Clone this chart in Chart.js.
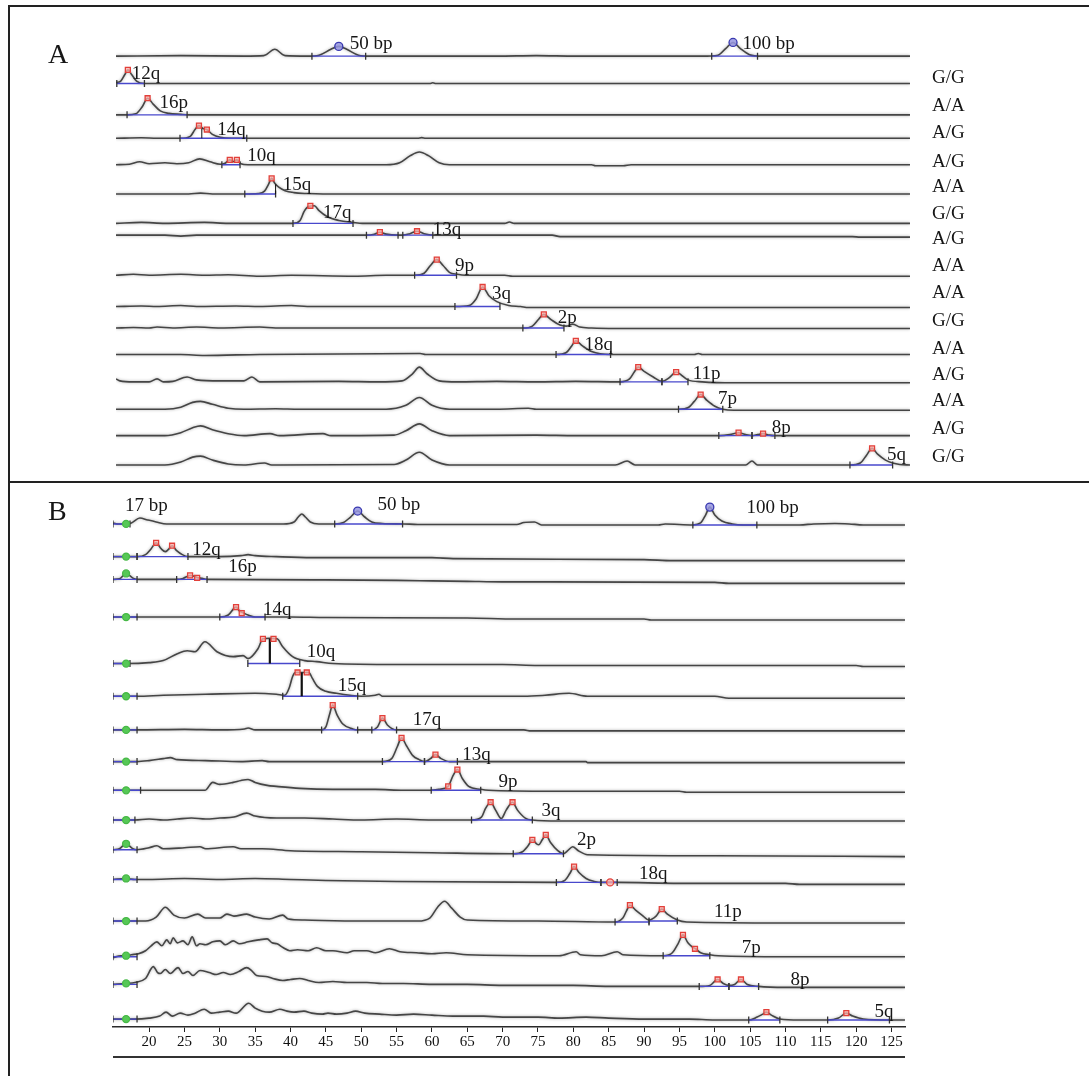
<!DOCTYPE html>
<html lang="en">
<head>
<meta charset="UTF-8">
<title>Electropherogram lanes A / B</title>
<script src="https://cdn.jsdelivr.net/npm/chart.js"></script>
<style>
  body { margin: 0; background: #fff; }
  #wrap { position: relative; width: 1089px; height: 1076px; overflow: hidden; }
  .panel { position: absolute; left: 0; }
  .frame { position: absolute; left: 8px; top: 5px; width: 1081px; height: 1071px;
           border-top: 2px solid #222; border-left: 2px solid #222; box-sizing: border-box; }
  .split { position: absolute; left: 8px; top: 481px; width: 1081px; height: 2px; background: #222; }
</style>
</head>
<body>
<div id="wrap">
  <div class="panel" style="top:0"><canvas id="chartA" width="1089" height="482"></canvas></div>
  <div class="panel" style="top:482px"><canvas id="chartB" width="1089" height="594"></canvas></div>
  <div class="frame"></div>
  <div class="split"></div>
</div>
<script>
// ---------------- data: panel A (run without sizing axis) ----------------
const namesA = [['50 bp', '100 bp'], ['12q'], ['16p'], ['14q'], ['10q'], ['15q'], ['17q'], ['13q'],
                ['9p'], ['3q'], ['2p'], ['18q'], ['11p'], ['7p'], ['8p'], ['5q']];
const genotypesA = ['G/G', 'A/A', 'A/G', 'A/G', 'A/A', 'G/G', 'A/G', 'A/A', 'A/A', 'G/G',
                    'A/A', 'A/G', 'A/A', 'A/G', 'G/G'];

// each lane: [position, signal] pairs
const traceA = [
  [[21.8,0],[30,0.5],[38,0],[40.5,0.5],[41.9,7],[43.2,0.5],[46,0],[47.5,1],[49,7],[50,10],[51,7],[52.5,1],[54,0],[70,0],[75,0.5],[80,0],[96,0],[98,1],[99,8],[99.9,14],[100.8,8],[102,1.5],[103.5,0],[122.3,0]],
  [[21.8,1],[22.4,2.5],[22.9,9],[23.3,14],[23.8,9],[24.4,2.5],[25.4,0],[61.5,0],[61.9,0.8],[62.3,0],[122.3,0]],
  [[21.8,0],[23.2,0],[24.3,1],[25.1,8],[25.8,17],[26.5,11],[27.4,4],[28.5,1.5],[30,0.5],[31,0],[122.3,0]],
  [[21.8,0],[25,0.5],[27,0],[29.9,0],[31.2,2],[31.8,9],[32.3,13],[32.8,10],[33.3,9],[34,4],[35,1],[36.5,0],[60,0],[60.5,0.7],[61,0],[122.3,0]],
  [[21.8,0],[23.5,0.5],[24.8,3],[26,1],[28,2],[29.5,1],[31,2],[32.4,6],[33.7,3],[35,0.5],[35.6,1.5],[36.2,5],[36.6,3],[37.1,5],[37.6,1],[38.5,0],[56,0],[57.7,2],[59,9],[60.2,13],[61.4,9],[62.7,2],[64,0],[82,0],[82.5,-1],[86,-1],[87,0],[122.3,0]],
  [[21.8,0],[31,0],[32.5,1],[34,0],[38.1,0],[39.8,0.5],[40.6,3],[41.1,10],[41.5,16],[41.9,11],[42.4,7],[43.2,3.5],[44.3,1.5],[46,0.5],[48,0],[122.3,0]],
  [[21.8,0],[25,1],[28,0],[33,1],[36,0],[44.2,0],[45.1,3],[45.6,12],[46.1,17],[46.9,18],[47.5,13],[48.5,7],[50,3],[51.8,1],[53,0],[71,0],[71.6,1.5],[72.2,0],[122.3,0]],
  [[21.8,0],[28,0],[30,-1],[32,0],[53.5,0],[54.5,1],[55.2,3],[56,1],[57.5,0],[58.1,0],[59,1.5],[59.9,4],[60.8,1.5],[61.9,0],[77,0],[78,-1.5],[115,-1.5],[116,-2],[122.3,-2]],
  [[21.8,0],[24,1],[26,0],[30,1],[33,0],[36,0.5],[40,-1],[44,0],[52,-1],[56,0],[59.6,0],[60.8,2],[61.6,10],[62.4,16],[63.2,10],[64,3],[65,1],[66,0],[71,0],[72,-1],[122.3,-1]],
  [[21.8,0],[25,0.5],[27,0],[30,1],[32,0],[37,0.5],[40,0],[44,1],[46,0],[64.7,0],[66.5,1],[67.4,8],[68.2,20],[69,11],[70,5],[71.5,1],[73,0],[74,-1],[122.3,-1]],
  [[21.8,0],[24,0.5],[26,0],[27,1],[29,0],[32,1],[35,0],[40,1],[42,0],[73.3,0],[74.5,2],[75.3,9],[75.95,14],[76.8,9],[78,3],[78.8,2],[79.6,4],[80.5,1],[82,0],[85,-0.5],[122.3,-0.5]],
  [[21.8,0],[30,0],[33,-1],[40,0],[60.3,1],[61,0],[77.5,0],[78.8,2],[79.5,9],[80,14],[80.8,9],[82,3],[84.4,0],[95,0],[95.5,1],[96,0],[122.3,0]],
  [[21.8,3],[22.3,1],[24,0],[26,0],[27,3],[27.8,0],[29,0.5],[30.8,5],[32,2],[35,1],[38,1],[39,5],[40,0],[50,0.5],[55,0],[58,1],[59.3,8],[60.2,15],[61.2,8],[62.7,1],[65,0],[70,0.5],[75,0],[80,0.5],[85.6,0],[86.8,3],[87.4,10],[87.9,15],[88.6,11],[89.8,5],[90.9,0.5],[91.8,4],[92.7,10],[93.5,6],[94.2,2],[96,0],[100,-1],[122.3,-1]],
  [[21.8,0],[28,0],[30,2],[31.5,7],[32.5,8],[34,5],[36,1],[38,0],[42,0.5],[45,0],[56,0],[58.5,4],[60.2,12],[61.8,4],[64,0],[70,0],[74,1],[75,0],[93,0],[94.3,2],[95,8],[95.8,15],[96.6,9],[97.6,3],[98.6,0],[100,-1],[122.3,-1]],
  [[21.8,0],[28,0],[30,3],[31.5,8],[32.5,10],[34,6],[36,2],[38,0],[41.3,2],[42.5,0],[48,2],[49,0],[57,0.5],[58.5,5],[60.2,12],[61.8,5],[64,0],[75,0.5],[80,0],[98.1,0],[99.5,1],[100.6,3],[101.5,1],[102.3,0],[103,1],[103.7,2],[104.5,0.5],[105.2,0],[122.3,0]],
  [[21.8,0],[28,0],[30,3],[31.5,8],[32.5,9],[34,5],[36,1],[38,0],[40.6,2],[41.5,0],[57,0.5],[58.5,5],[60.2,13],[61.8,5],[64,0],[85,0],[86.5,4],[87.5,0],[101.5,0],[102.3,4],[103,0],[114.7,0],[116,2],[116.8,10],[117.5,17],[118.2,11],[119.2,5],[120.1,2],[121,0.5],[122.3,0]]
];
// called peaks: [position, signal, kind]  r = red square, b = ladder circle
const markA = [
  [[50,10,'b'],[99.9,14,'b']], [[23.3,14,'r']], [[25.8,17,'r']], [[32.3,13,'r'],[33.3,9,'r']],
  [[36.2,5,'r'],[37.1,5,'r']], [[41.5,16,'r']], [[46.4,18,'r']], [[55.2,3,'r'],[59.9,4,'r']],
  [[62.4,16,'r']], [[68.2,20,'r']], [[75.95,14,'r']], [[80,14,'r']], [[87.9,15,'r'],[92.7,10,'r']],
  [[95.8,15,'r']], [[100.6,3,'r'],[103.7,2,'r']], [[117.5,17,'r']]
];
// peak integration baselines: [from, to, signal]
const segA = [
  [[46.6,53.4,0],[97.2,103,0]], [[21.9,25.4,0]], [[23.2,30.8,0]], [[29.9,38.35,0]],
  [[35.2,37.5,0]], [[38.1,42,0]], [[44.2,51.8,0]], [[53.5,57.5,0],[58.1,61.9,0]],
  [[59.6,64.9,0]], [[64.7,70.4,0]], [[73.3,78.5,0]], [[77.5,84.4,0]], [[85.6,90.9,0],[90.9,94.2,0]],
  [[93,98.6,0]], [[98.1,102.3,0],[102.3,105.2,0]], [[114.7,120.1,0]]
];
const divA = [[], [], [], [[32.66,10.5]], [], [[42.0,10]], [], [], [], [], [], [], [], [], [], []];

// ---------------- data: panel B (sized in bp) ----------------
const namesB = [['17 bp', '50 bp', '100 bp'], ['12q'], ['16p'], ['14q'], ['10q'], ['15q'], ['17q'], ['13q'],
                ['9p'], ['3q'], ['2p'], ['18q'], ['11p'], ['7p'], ['8p'], ['5q']];
const tickLabelsB = [20, 25, 30, 35, 40, 45, 50, 55, 60, 65, 70, 75, 80, 85, 90, 95, 100, 105, 110, 115, 120, 125];

const traceB = [
  [[14.9,1],[15.5,0],[16.75,0],[17.5,1],[18.7,6],[19.8,4],[21,2],[22.5,0],[39,0],[40.5,2],[41.1,7],[41.6,10],[42.1,7],[42.8,2],[44,0],[46.3,0],[47.5,1.5],[48.5,7],[49.5,13],[50.5,7],[51.5,2],[53,0.5],[56,0],[58,-0.5],[72,-0.5],[73,1.5],[74.5,2],[75.5,-1],[92,-1],[93,0],[96.9,-1],[98,1],[98.7,9],[99.3,17],[100,9],[101,3],[102.5,0],[104,-1],[112,-1],[114,0],[117,0.5],[119,0],[121,-1],[126.9,-1]],
  [[14.9,0],[18.3,0],[19.5,2],[20.3,8],[21,14],[21.7,8],[22.3,5],[22.7,7],[23.25,11],[23.9,6],[24.7,2],[25.5,0],[30,0],[33,1],[34,2],[35,1],[38,0],[43,-1],[60,-1],[63,-2],[90,-3],[94,-4],[126.9,-4]],
  [[14.9,0],[15.8,0.5],[16.75,6],[17.8,1],[18.5,0],[23.9,0],[24.8,1],[25.8,4],[26.5,3],[26.8,2],[27.5,1],[28.2,0],[45,-0.5],[55,-1],[60,-1.5],[65,-2],[70,-2.5],[100,-3],[102,-4],[126.9,-4]],
  [[14.9,0],[18.3,0],[30,0],[31.2,2],[32.3,10],[32.8,6],[33.1,5],[34,2],[35,0],[40,0],[45,-0.5],[65,-1],[72,-2],[90,-2],[91,-3],[126.9,-3]],
  [[14.9,0],[17,0],[20,1],[22,3],[24,10],[25.4,13],[26.5,12],[27.9,22],[29.6,12],[31.9,7],[33.3,8],[34,5],[35.4,15],[36.1,25],[37.1,25.5],[38.1,25],[38.9,17],[40.3,7],[42,3],[43.7,2],[46,0],[55,-1],[70,-1],[75,-2],[120,-2],[121,-3],[126.9,-3]],
  [[14.9,0],[18.3,0],[22,1],[28,2],[35,3],[38,2],[39.2,1],[39.8,8],[40.3,20],[40.7,24],[42.6,24],[43.1,18],[43.8,10],[45,5],[46.5,3],[48.4,1],[50,0],[52,1],[52.5,2],[53,0],[73,0],[76,1],[79.4,3],[82,0],[100,0],[102,-2],[126.9,-2]],
  [[14.9,0],[18.3,0],[25,0.5],[30,0],[33.5,1],[34,2],[35,0],[44.4,0],[45,3],[45.5,15],[45.97,25],[46.6,15],[47.4,6],[48.8,1],[49.5,0],[51.5,0],[52.3,3],[53,12],[53.7,5],[55,0],[73,0],[74,-1],[126.9,-1]],
  [[14.9,0],[18.3,0],[20,1],[22,3],[23,4],[24,2],[28,1],[33,0],[36,1],[37,0],[53,0],[54.3,3],[55.1,15],[55.7,24],[56.4,16],[57.3,6],[58.2,2],[59,0],[59.8,3],[60.5,7],[61.3,3],[62.5,0],[81.8,0],[82,-1],[126.9,-1]],
  [[14.9,0],[18.8,0],[27.9,0],[29,8],[30,6],[31.9,8],[33,10],[34,11],[35,8],[36.7,5],[38,4],[41.3,2],[46,1],[52,1],[56,0],[59.7,0],[61,1],[62.3,4],[63,15],[63.6,21],[64.3,12],[65.2,4],[66.9,1],[68,0],[77,-1],[95,-1],[96,-2],[126.9,-2]],
  [[14.9,0],[18,0],[20,1],[22,0],[24,1],[26,2],[28,1],[30,2],[32,3],[33.8,7],[35,4],[38,2],[42,2],[46,1],[50,0],[55,1],[60,0],[65.6,0],[67,3],[67.6,12],[68.3,18],[69,10],[69.8,1.5],[70.5,10],[71.4,18],[72.1,10],[73.2,2],[74.2,0],[78,-1],[126.9,-1]],
  [[14.9,3],[15.8,4],[16.75,9],[17.7,4],[18.3,3],[20,5],[21.1,7],[22,4],[25,5],[27.2,6],[28,4],[31.9,6],[33,4],[36,4],[40,2],[50,1],[60,0],[71.5,-1],[72.8,1],[73.6,7],[74.2,13],[74.8,9],[75.1,8],[75.6,13],[76.1,18],[76.8,10],[77.8,2],[78.6,-1],[79.2,2],[79.9,6],[80.7,2],[82,-2],[100,-3],[126.9,-4]],
  [[14.9,2],[16.75,3],[18,2],[20,2],[25,3],[30,2],[35,3],[40,2],[45,1],[55,0],[77.6,-1],[78.8,1],[79.5,8],[80.1,15],[80.8,9],[81.8,3],[83,0],[83.9,-1],[86.2,-1],[95,-2],[110,-2],[112,-3],[126.9,-3]],
  [[14.9,0],[19.5,0],[21,4],[22.3,14],[23.5,6],[25,3],[26.9,7],[28,3],[30,3],[31,7],[32,5],[33.8,7],[35,4],[37,2],[38.9,6],[39.7,2],[42,1],[50,0],[58,0],[59.7,3],[60.8,14],[61.8,20],[62.8,13],[64,4],[65,1],[75,0],[85.9,-1],[87,3],[87.5,10],[88,16],[88.8,11],[89.7,6],[90.7,1],[91.7,5],[92.5,12],[93.3,7],[94.7,1],[96,-1],[110,-2],[126.9,-2]],
  [[14.9,-2],[16,0],[16.75,0],[17.5,1],[18.5,2],[19.5,5],[20.3,10],[21.1,14],[21.8,10],[22.5,16],[23,12],[23.4,18],[24,13],[24.8,15],[25.5,11],[26.1,19],[26.7,10],[27.2,12],[28,11],[29,14],[30,15],[30.8,11],[31.9,15],[32.8,12],[34,14],[35.5,16],[36.7,17],[37.4,13],[38.1,12],[39,8],[39.9,5],[41,6],[42.5,5],[43.7,8],[45,5],[46,5],[48,3],[49,5],[50.8,5],[52,3],[54,7],[55.5,4],[57.8,3],[60,2],[62,3],[65,1],[78,0],[80.4,4],[81,1],[84,0],[86.2,4],[87,1],[92.7,0],[94,3],[94.8,12],[95.5,21],[96.2,13],[96.8,9],[97.3,7],[98,3],[99.3,1],[100.5,0],[110,-1],[126.9,-1]],
  [[14.9,2],[16.75,3],[18,4],[19.5,8],[20.6,20],[21.2,14],[21.6,13],[22.3,17],[23,13],[24.1,19],[24.8,13],[25.5,15],[26.2,11],[27.2,16],[28.5,14],[29.5,12],[30.5,14],[31.5,12],[32.7,15],[33.8,19],[34.5,16],[35.2,11],[36.5,10],[37.5,8],[38.9,6],[40,7],[41.3,8],[42.5,6],[44,4],[46,5],[48,4],[50.8,4],[53,3],[56,3],[60,2],[65,2],[70,1],[80,1],[85,0],[97.8,0],[99.3,1],[100.4,7],[101.2,3],[102,1],[102.8,2],[103.7,7],[104.6,2],[106.2,0],[110,-1],[126.9,-1]],
  [[14.9,0],[18,0],[20,1],[21.5,3],[22.4,7],[23.3,3],[24.4,6],[25.5,4],[26.5,6],[27.8,10],[28.8,6],[30,7],[31.2,8],[32.3,6],[34.1,16],[35,11],[36,8],[37,7],[38.5,10],[39.5,8],[40.5,7],[41.9,8],[43,6],[44.5,5],[45.3,6],[46.5,5],[48,6],[49.2,8],[50.5,6],[52.6,5],[55,4],[57.4,5],[60,4],[63,3],[67.3,3],[70,2],[75,2],[78,1],[81.8,2],[85,1],[90,0],[96.4,0],[100,-1],[104.8,-1],[106,2],[106.8,5],[107.3,7],[108,4],[109.2,0],[112,-1],[116,-1],[117.5,1],[118.6,6],[119.5,3],[121,0],[124.7,-1],[126.9,-1]]
];
// r = red square, o = red circle, b = ladder circle, g = green marker
const markB = [
  [[16.75,0,'g'],[49.5,13,'b'],[99.3,17,'b']], [[16.75,0,'g'],[21,14,'r'],[23.25,11,'r']],
  [[16.75,6,'g'],[25.8,4,'r'],[26.8,1.5,'r']], [[16.75,0,'g'],[32.3,10,'r'],[33.1,4,'r']],
  [[16.75,0,'g'],[36.1,25,'r'],[37.6,25,'r']], [[16.75,0,'g'],[41.0,24,'r'],[42.3,24,'r']],
  [[16.75,0,'g'],[45.97,25,'r'],[53,12,'r']], [[16.75,0,'g'],[55.7,24,'r'],[60.5,7,'r']],
  [[16.75,0,'g'],[62.3,4,'r'],[63.6,21,'r']], [[16.75,0,'g'],[68.3,18,'r'],[71.4,18,'r']],
  [[16.75,9,'g'],[74.2,13,'r'],[76.1,18,'r']], [[16.75,3,'g'],[80.1,15,'r'],[85.2,-1,'o']],
  [[16.75,0,'g'],[88,16,'r'],[92.5,12,'r']], [[16.75,0,'g'],[95.5,21,'r'],[97.2,7,'r']],
  [[16.75,3,'g'],[100.4,7,'r'],[103.7,7,'r']], [[16.75,0,'g'],[107.3,7,'r'],[118.6,6,'r']]
];
const segB = [
  [[14.9,17.3,0],[46.25,55.85,0],[96.9,105.95,-1]], [[14.9,18.3,0],[18.3,25.5,0]],
  [[14.9,18.3,0],[23.9,28.2,0]], [[14.9,18.3,0],[30,36.4,0]], [[14.9,17.3,0],[33.97,41.31,0]],
  [[14.9,18.3,0],[38.9,49.5,0]], [[14.9,18.3,0],[44.4,49.5,0],[51.5,55,0]],
  [[14.9,18.3,0],[53,58.95,0],[58.95,63.6,0]], [[14.9,18.8,0],[59.9,66.9,0]],
  [[14.9,18,0],[65.6,74.2,0]], [[14.9,18.3,3],[71.5,78.6,-1]], [[14.9,18.3,2],[77.6,83.9,-1],[83.9,86.2,-1]],
  [[14.9,18.3,0],[85.9,90.7,-1],[90.7,94.7,0]], [[14.9,18.3,-1],[92.7,99.3,0]],
  [[14.9,18.3,2],[97.8,102,0],[102,106.2,0]], [[14.9,18.3,0],[104.8,109.2,-1],[115.96,124.7,-1]]
];
const divB = [[], [], [], [], [[37.08,25]], [[41.59,24]], [], [], [], [], [], [], [], [], [], []];

// ---------------- layout (lane rows, label placement) ----------------
const rowA = [52, 80, 112, 136, 163, 193, 223, 235, 276, 308, 330, 357, 385, 413, 440, 470];
const nameAtA = [[[51.4,12],[101.1,12]], [[23.8,10]], [[27.3,12]], [[34.6,8]], [[38.4,9]], [[42.9,9]], [[48.0,11]], [[61.9,5]],
                 [[64.7,9]], [[69.4,13]], [[77.7,10]], [[81.1,10]], [[94.8,8]], [[98.0,10]], [[104.8,8]], [[119.4,10]]];
const genoLiftA = [6, 9, 5, 3, 7, 10, -4, 9, 14, 7, 6, 7, 8, 7, 8];

const rowB = [519, 552, 575, 613, 660, 693, 727, 759, 788, 818, 851, 880, 920, 955, 986, 1019];
const nameAtB = [[[16.6,18],[52.3,19],[104.5,16]], [[26.1,7]], [[31.2,12]], [[36.1,7]], [[42.3,12]], [[46.7,10]], [[57.3,10]], [[64.3,7]],
                 [[69.4,8]], [[75.5,9]], [[80.5,13]], [[89.3,7]], [[99.9,9]], [[103.8,8]], [[110.7,6]], [[122.6,7]]];

const SERIF = '"Liberation Serif", "Times New Roman", serif';
const markStyle = {
  r: { pointStyle: 'rect', radius: 3.5, border: '#e2403a', fill: 'rgba(255,175,170,0.75)' },
  o: { pointStyle: 'circle', radius: 3.5, border: '#e2403a', fill: 'rgba(255,175,170,0.75)' },
  b: { pointStyle: 'circle', radius: 4, border: '#3a3ab0', fill: 'rgba(150,150,225,0.85)' },
  g: { pointStyle: 'circle', radius: 3.5, border: '#46b846', fill: '#56c856' }
};

function buildDatasets(rows, traces, marks, segs, divs, divWidth) {
  const sets = [];
  traces.forEach((tr, i) => {
    sets.push({
      data: tr.map(([x, h]) => ({ x, y: rows[i] - h })),
      borderColor: '#454545', borderWidth: 1.6, pointRadius: 0,
      cubicInterpolationMode: 'monotone', halo: true, order: 3
    });
  });
  segs.forEach((list, i) => list.forEach(([a, b, h]) => {
    sets.push({
      data: [{ x: a, y: rows[i] - h }, { x: b, y: rows[i] - h }],
      borderColor: '#4848cc', borderWidth: 1.4,
      pointStyle: 'line', rotation: 90, pointRadius: 3.5,
      pointBorderColor: '#333', pointBorderWidth: 1.3, order: 2
    });
  }));
  divs.forEach((list, i) => list.forEach(([x, h]) => {
    sets.push({
      data: [{ x, y: rows[i] }, { x, y: rows[i] - h }],
      borderColor: '#111', borderWidth: divWidth, pointRadius: 0, order: 1
    });
  }));
  Object.keys(markStyle).forEach(kind => {
    const st = markStyle[kind];
    const pts = [];
    marks.forEach((list, i) => list.forEach(([x, h, k]) => { if (k === kind) pts.push({ x, y: rows[i] - h }); }));
    if (!pts.length) return;
    sets.push({
      data: pts, showLine: false, pointStyle: st.pointStyle, pointRadius: st.radius,
      pointBorderColor: st.border, pointBackgroundColor: st.fill, pointBorderWidth: 1.3, order: 0
    });
  });
  return sets;
}

// soft grey halo around the traces, like the scanned original
const haloPlugin = {
  id: 'halo',
  beforeDatasetDraw(chart, args) {
    if (!chart.data.datasets[args.index].halo) return;
    chart.ctx.save();
    chart.ctx.shadowColor = 'rgba(0,0,0,0.35)';
    chart.ctx.shadowBlur = 3;
  },
  afterDatasetDraw(chart, args) {
    if (chart.data.datasets[args.index].halo) chart.ctx.restore();
  }
};

function textPlugin(p) {
  return {
    id: 'laneText',
    afterDatasetsDraw(chart) {
      const { ctx, scales: { x, y } } = chart;
      ctx.save();
      ctx.fillStyle = '#161616';
      ctx.textBaseline = 'middle';
      ctx.textAlign = 'left';
      ctx.font = '19px ' + SERIF;
      p.names.forEach((list, i) => list.forEach((name, k) => {
        const [vx, lift] = p.nameAt[i][k];
        ctx.fillText(name, x.getPixelForValue(vx), y.getPixelForValue(p.rows[i] - lift));
      }));
      if (p.geno) {
        p.geno.forEach((g, k) => {
          ctx.fillText(g, chart.chartArea.right + 22, y.getPixelForValue(p.rows[k + 1] - p.genoLift[k]));
        });
      }
      ctx.textBaseline = 'alphabetic';
      ctx.font = '28px ' + SERIF;
      ctx.fillText(p.letter, 48, p.letterBase);
      if (p.bottomRule) {
        ctx.strokeStyle = '#333';
        ctx.lineWidth = 2;
        ctx.beginPath();
        ctx.moveTo(x.left, chart.chartArea.bottom + 30);
        ctx.lineTo(x.right, chart.chartArea.bottom + 30);
        ctx.stroke();
      }
      ctx.restore();
    }
  };
}

const common = {
  responsive: false,
  animation: false,
  events: [],
  plugins: { legend: { display: false }, tooltip: { enabled: false } }
};

// panel A
new Chart(document.getElementById('chartA'), {
  type: 'line',
  data: { datasets: buildDatasets(rowA, traceA, markA, segA, divA, 1) },
  options: {
    ...common,
    layout: { padding: { left: 116, right: 179, top: 0, bottom: 0 } },
    scales: {
      x: { type: 'linear', display: false, min: 21.8, max: 122.3 },
      y: { type: 'linear', display: false, reverse: true, min: 0, max: 482 }
    }
  },
  plugins: [haloPlugin, textPlugin({ names: namesA, nameAt: nameAtA, rows: rowA, geno: genotypesA,
                                     genoLift: genoLiftA, letter: 'A', letterBase: 63 })]
});

// panel B
new Chart(document.getElementById('chartB'), {
  type: 'line',
  data: { datasets: buildDatasets(rowB, traceB, markB, segB, divB, 2.2) },
  options: {
    ...common,
    layout: { padding: { left: 113, right: 184, top: 0, bottom: 0 } },
    scales: {
      x: {
        type: 'linear', min: 14.9, max: 126.9,
        afterBuildTicks: s => { s.ticks = tickLabelsB.map(v => ({ value: v })); },
        afterFit: s => { s.height = 49; },
        grid: { drawOnChartArea: false, drawTicks: true, tickLength: 5, color: '#222', lineWidth: 1 },
        border: { display: true, color: '#2a2a2a', width: 1.6 },
        ticks: { autoSkip: false, maxRotation: 0, padding: 1, color: '#111',
                 font: { family: SERIF, size: 15 } }
      },
      y: { type: 'linear', display: false, reverse: true, min: 482, max: 1027 }
    }
  },
  plugins: [haloPlugin, textPlugin({ names: namesB, nameAt: nameAtB, rows: rowB, geno: null,
                                     letter: 'B', letterBase: 38, bottomRule: true })]
});
</script>
</body>
</html>
